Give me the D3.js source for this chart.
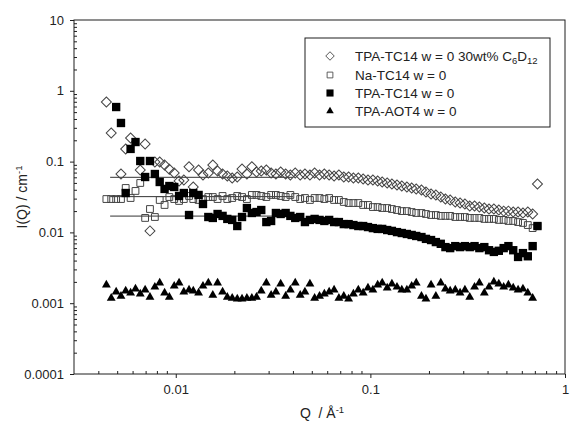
<!DOCTYPE html>
<html>
<head>
<meta charset="utf-8">
<script src="https://cdn.jsdelivr.net/npm/d3@7"></script>
<style>
  html, body { margin: 0; padding: 0; background: #fff; }
  svg { display: block; font-family: "Liberation Sans", Arial, sans-serif; }
</style>
</head>
<body>
<svg id="chart" width="570" height="426"></svg>
<script>
// Scattering vector Q (1/Å), shared by all four samples
const q = [
  0.00440,0.00466,0.00494,0.00523,0.00553,0.00586,0.00621,0.00657,0.00696,0.00737,
  0.00781,0.00827,0.00876,0.00927,0.00982,0.0104,0.0110,0.0117,0.0123,0.0131,
  0.0138,0.0147,0.0155,0.0164,0.0174,0.0184,0.0195,0.0207,0.0219,0.0232,
  0.0246,0.0260,0.0275,0.0292,0.0309,0.0327,0.0346,0.0367,0.0388,0.0411,
  0.0436,0.0461,0.0489,0.0517,0.0548,0.0580,0.0614,0.0651,0.0689,0.0730,
  0.0773,0.0818,0.0867,0.0918,0.0972,0.103,0.109,0.115,0.122,0.129,
  0.137,0.145,0.154,0.163,0.172,0.183,0.193,0.205,0.217,0.230,
  0.243,0.257,0.273,0.289,0.306,0.324,0.343,0.363,0.385,0.407,
  0.431,0.457,0.484,0.512,0.542,0.574,0.608,0.644,0.682,0.722
];

// I(Q) / cm^-1 for each sample (null = no point at that Q)
const tpaTc14C6D12 = [
  0.695,0.254,null,0.0668,0.151,0.215,null,0.0761,0.177,0.0105,
  0.0987,0.0987,0.0895,0.078,0.069,0.0533,0.055,0.0848,0.0438,0.0761,
  0.0647,0.069,0.0895,0.0737,0.0668,0.0626,0.0587,0.0606,0.0785,0.0668,
  0.0848,0.0713,0.0737,0.0761,0.069,0.0668,0.0713,0.0668,0.0647,0.069,
  0.0647,0.0668,0.0647,0.069,0.0647,0.0668,0.0647,0.0626,0.0647,0.0606,
  0.0606,0.0587,0.0587,0.0568,0.055,0.055,0.0533,0.0515,0.0499,0.0483,
  0.0467,0.0452,0.0438,0.0424,0.0411,0.0397,0.0372,0.0349,0.0338,0.0316,
  0.0296,0.0287,0.0269,0.026,0.0252,0.0236,0.0236,0.0228,0.0221,0.0214,
  0.0214,0.0207,0.020,0.020,0.0194,0.0194,0.0188,0.0194,0.0182,0.0483
];

const naTc14 = [
  0.0296,0.0296,0.0296,0.0296,0.0424,0.0306,0.0385,0.0499,0.016,0.0214,
  0.0165,0.0287,0.0244,0.0316,0.0296,0.0278,0.0296,0.0327,0.0296,0.0287,
  0.0296,0.0316,0.0316,0.0296,0.0327,0.0296,0.0306,0.0327,0.0316,0.0296,
  0.0338,0.0338,0.0327,0.0316,0.0338,0.0338,0.0327,0.0316,0.0338,0.0316,
  0.0296,0.0306,0.0287,0.0306,0.0306,0.0296,0.0306,0.0287,0.0287,0.0269,
  0.026,0.026,0.026,0.0244,0.0244,0.0228,0.0228,0.0221,0.0221,0.0214,
  0.0207,0.020,0.020,0.0194,0.0188,0.0188,0.0182,0.0176,0.0176,0.0171,
  0.0171,0.0171,0.0165,0.0165,0.0165,0.016,0.016,0.016,0.0155,0.0155,
  0.0155,0.015,0.015,0.0145,0.0145,0.014,0.0136,0.0127,0.0115,0.0123
];

const tpaTc14 = [
  null,null,0.59,0.351,0.036,0.151,0.189,0.102,0.0606,0.102,
  0.0668,0.0515,0.0411,0.0452,0.0438,0.0327,0.036,0.0176,0.036,0.0338,
  0.0252,0.0165,0.016,0.0182,0.0171,0.0155,0.015,0.0123,0.0165,0.0221,
  0.0188,0.0194,0.0207,0.014,0.0145,0.0188,0.0182,0.0188,0.0171,0.016,
  0.0165,0.014,0.015,0.0155,0.015,0.0145,0.015,0.014,0.014,0.0131,
  0.0131,0.0127,0.0123,0.0123,0.0119,0.0115,0.0112,0.0112,0.0108,0.0105,
  0.0101,0.0098,0.0095,0.0092,0.0089,0.0086,0.0081,0.0078,0.0073,0.0069,
  0.0062,0.006,0.0064,0.0062,0.0064,0.0062,0.0064,0.006,0.0062,0.0056,
  0.0053,0.0055,0.006,0.0064,0.0056,0.0045,0.0051,0.0046,0.0064,0.0123
];

const tpaAot4 = [
  0.00181,0.00118,0.00144,0.00126,0.00149,0.00140,0.00159,0.00135,0.00154,0.00122,
  0.00169,0.00193,0.00140,0.00122,0.00175,0.00193,0.00144,0.00154,0.00149,0.00140,
  0.00175,0.00193,0.00130,0.00193,0.00144,0.00122,0.00118,0.00115,0.00115,0.00118,
  0.00118,0.00122,0.00149,0.00193,0.00130,0.00144,0.00187,0.00126,0.00154,0.00193,
  0.00130,0.00144,0.00187,0.00118,0.00126,0.00135,0.00144,0.00154,0.00118,0.00126,
  0.00115,0.00135,0.00154,0.00140,0.00164,0.00154,0.00181,0.00193,0.00164,0.00187,
  0.00169,0.00154,0.00154,0.00175,0.00193,0.00126,0.00115,0.00181,0.00126,0.00193,
  0.00159,0.00149,0.00154,0.00140,0.00154,0.00122,0.00169,0.00193,0.00140,0.00169,
  0.00200,0.00187,0.00169,0.00181,0.00164,0.00154,0.00159,0.00140,0.00118,null
];

// Flat low-Q intensity levels drawn as thin lines, and their Q extent
const levelValues = [0.06, 0.032, 0.017];
const levelQRange = [0.0046, 0.04];

// Axis ticks
const xMajorTicks = [0.01, 0.1, 1];
const xTickLabels = ["0.01", "0.1", "1"];
const yMajorTicks = [10, 1, 0.1, 0.01, 0.001, 0.0001];
const yTickLabels = ["10", "1", "0.1", "0.01", "0.001", "0.0001"];

const legendNames = ["TPA-TC14 w = 0 30wt% C6D12", "Na-TC14 w = 0", "TPA-TC14 w = 0", "TPA-AOT4 w = 0"];

// ---------------------------------------------------------------
const svg = d3.select("#chart");
const plotLeft = 74, plotRight = 565, plotTop = 20, plotBottom = 374;
const ink = "#1e1e1e";

const x = d3.scaleLog().domain([0.003, 1]).range([plotLeft, plotRight]);
const y = d3.scaleLog().domain([0.0001, 10]).range([plotBottom, plotTop]);

// minor tick positions: 2..9 within each decade
const minorsIn = (lo, hi) => {
  const out = [];
  for (let e = Math.floor(Math.log10(lo)); e < Math.ceil(Math.log10(hi)); e++) {
    for (let m = 2; m <= 9; m++) {
      const v = m * Math.pow(10, e);
      if (v > lo * 1.0001 && v < hi * 0.9999) out.push(v);
    }
  }
  return out;
};

// Minor ticks point into the plot, majors point out
const xMinor = svg.append("g").attr("transform", `translate(0,${plotBottom})`)
  .call(d3.axisBottom(x).tickValues(minorsIn(0.003, 1)).tickSize(-3).tickFormat(""));
const xMajor = svg.append("g").attr("transform", `translate(0,${plotBottom})`)
  .call(d3.axisBottom(x).tickValues(xMajorTicks).tickSize(4).tickPadding(7)
    .tickFormat((d, i) => xTickLabels[i]));
const yMinor = svg.append("g").attr("transform", `translate(${plotLeft},0)`)
  .call(d3.axisLeft(y).tickValues(minorsIn(0.0001, 10)).tickSize(-3).tickFormat(""));
const yMajor = svg.append("g").attr("transform", `translate(${plotLeft},0)`)
  .call(d3.axisLeft(y).tickValues(yMajorTicks).tickSize(4).tickPadding(6)
    .tickFormat((d, i) => yTickLabels[i]));

[xMinor, xMajor, yMinor, yMajor].forEach(g => {
  g.select(".domain").remove();
  g.selectAll("line").attr("stroke", ink);
  g.selectAll("text").attr("fill", "#222").style("font-size", "13px")
    .style("font-family", "'Liberation Sans', Arial, sans-serif");
});

// plot frame
svg.append("rect")
  .attr("x", plotLeft).attr("y", plotTop)
  .attr("width", plotRight - plotLeft).attr("height", plotBottom - plotTop)
  .attr("fill", "none").attr("stroke", ink).attr("stroke-width", 1);

// level lines
svg.append("g").selectAll("line").data(levelValues).join("line")
  .attr("x1", x(levelQRange[0])).attr("x2", x(levelQRange[1]))
  .attr("y1", d => y(d)).attr("y2", d => y(d))
  .attr("stroke", "#333").attr("stroke-width", 1);

// marker styles
const diamondPath = d3.symbol().type(d3.symbolSquare).size(50)();
const openSqPath = d3.symbol().type(d3.symbolSquare).size(46)();
const fillSqPath = d3.symbol().type(d3.symbolSquare).size(70)();
const triPath = d3.symbol().type(d3.symbolTriangle).size(34)();

const series = [
  { vals: tpaTc14C6D12, path: diamondPath, rot: 45, fill: "none", stroke: "#444" },
  { vals: naTc14, path: openSqPath, rot: 0, fill: "none", stroke: "#444" },
  { vals: tpaTc14, path: fillSqPath, rot: 0, fill: "#000", stroke: "none" },
  { vals: tpaAot4, path: triPath, rot: 0, fill: "#000", stroke: "none" }
];

series.forEach(s => {
  const pts = q.map((qq, i) => [qq, s.vals[i]]).filter(p => p[1] != null);
  svg.append("g").selectAll("path").data(pts).join("path")
    .attr("d", s.path)
    .attr("transform", p => `translate(${x(p[0])},${y(p[1])}) rotate(${s.rot})`)
    .attr("fill", s.fill)
    .attr("stroke", s.stroke)
    .attr("stroke-width", 1);
});

// legend
const lg = svg.append("g");
lg.append("rect").attr("x", 305).attr("y", 38).attr("width", 245).attr("height", 89)
  .attr("fill", "#fff").attr("stroke", ink).attr("stroke-width", 1);
const rowY = [56, 75, 93, 111];
series.forEach((s, i) => {
  lg.append("path").attr("d", s.path)
    .attr("transform", `translate(330,${rowY[i]}) rotate(${s.rot}) scale(0.85)`)
    .attr("fill", s.fill).attr("stroke", s.stroke).attr("stroke-width", 1);
});
const legendText = (i) => lg.append("text").attr("x", 355).attr("y", rowY[i] + 5)
  .attr("fill", "#222").style("font-size", "13.5px");
{
  const t = legendText(0);
  t.append("tspan").text("TPA-TC14 w = 0 30wt% C");
  t.append("tspan").attr("dy", 3).style("font-size", "9.5px").text("6");
  t.append("tspan").attr("dy", -3).text("D");
  t.append("tspan").attr("dy", 3).style("font-size", "9.5px").text("12");
}
for (let i = 1; i < 4; i++) legendText(i).text(legendNames[i]);

// axis titles
const yt = svg.append("text")
  .attr("transform", "translate(27,197) rotate(-90)")
  .attr("text-anchor", "middle").attr("fill", "#222").style("font-size", "14px");
yt.append("tspan").text("I(Q) / cm");
yt.append("tspan").attr("dy", -5).style("font-size", "9.5px").text("-1");

const xt = svg.append("text")
  .attr("x", 322).attr("y", 418)
  .attr("text-anchor", "middle").attr("fill", "#222").style("font-size", "14px");
xt.append("tspan").text("Q\u00a0\u00a0/ Å");
xt.append("tspan").attr("dy", -5).style("font-size", "9.5px").text("-1");
</script>
</body>
</html>
